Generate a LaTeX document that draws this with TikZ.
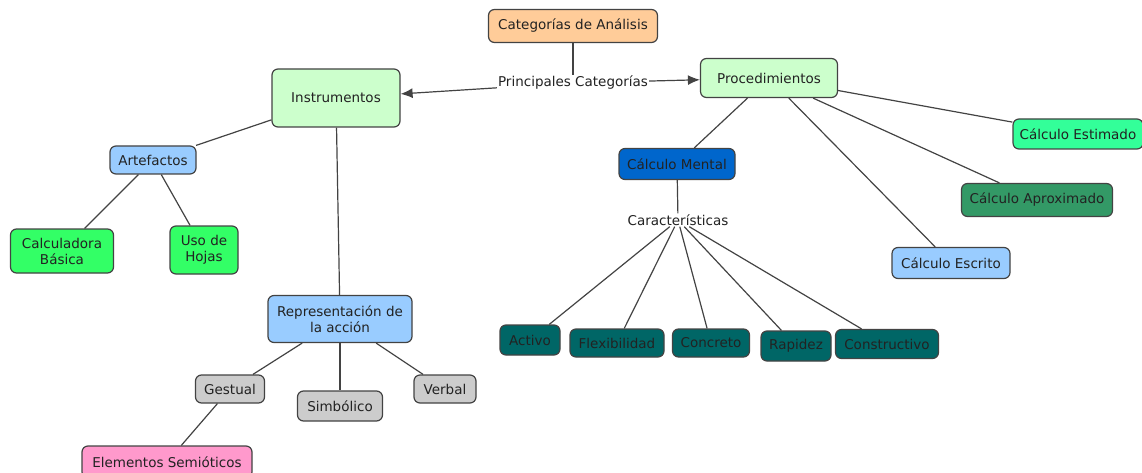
\documentclass[tikz,border=0pt]{standalone}
\usepackage{fontspec}
\setmainfont{DejaVu Sans}
\usepackage{xcolor}
\usetikzlibrary{arrows.meta}
\definecolor{peach}{HTML}{FFCC99}
\definecolor{paleverde}{HTML}{CCFFCC}
\definecolor{celeste}{HTML}{99CCFF}
\definecolor{verdevivo}{HTML}{33FF66}
\definecolor{gris}{HTML}{CCCCCC}
\definecolor{rosa}{HTML}{FF99CC}
\definecolor{azul}{HTML}{0066CC}
\definecolor{petroleo}{HTML}{006666}
\definecolor{menta}{HTML}{33FF99}
\definecolor{marino}{HTML}{339966}
\definecolor{tinta}{HTML}{222222}

\tikzset{
  caja/.style={draw=tinta!85, line width=1.2pt, rounded corners=6pt, text=tinta,
    font=\fontsize{13.5}{16}\selectfont, align=center, inner sep=3pt},
  etiqueta/.style={fill=white, text=tinta, font=\fontsize{13.5}{16}\selectfont, inner sep=1pt},
  enlace/.style={draw=tinta!85, line width=1.2pt}
}

\begin{document}
\begin{tikzpicture}[x=1pt,y=-1pt]
\useasboundingbox (0,0) rectangle (1142,473);

\node [caja,fill=peach,minimum width=169,minimum height=33] (cat) at (573,26) {Categorías de Análisis};
\node [etiqueta] (princ) at (573,83) {Principales Categorías};
\node [caja,fill=paleverde,minimum width=128,minimum height=58] (instr) at (336,98) {Instrumentos};
\node [caja,fill=paleverde,minimum width=137,minimum height=39] (proc) at (769,78) {Procedimientos};

\node [caja,fill=celeste,minimum width=86,minimum height=28] (artef) at (153,160) {Artefactos};
\node [caja,fill=verdevivo,minimum width=103,minimum height=44] (calc) at (62,251) {Calculadora\\Básica};
\node [caja,fill=verdevivo,minimum width=68,minimum height=48] (hojas) at (204,250) {Uso de\\Hojas};

\node [caja,fill=celeste,minimum width=144,minimum height=47] (repr) at (340,319) {Representación de\\la acción};
\node [caja,fill=gris,minimum width=69,minimum height=28] (gest) at (230,389) {Gestual};
\node [caja,fill=gris,minimum width=85,minimum height=30] (simb) at (340,406) {Simbólico};
\node [caja,fill=gris,minimum width=62,minimum height=28] (verb) at (445,389) {Verbal};
\node [caja,fill=rosa,minimum width=170,minimum height=32] (semio) at (167,462) {Elementos Semióticos};

\node [caja,fill=azul,minimum width=116,minimum height=31] (mental) at (677,164) {Cálculo Mental};
\node [etiqueta] (carac) at (678,220) {Características};
\node [caja,fill=petroleo,minimum width=60,minimum height=30] (activo) at (530,340) {Activo};
\node [caja,fill=petroleo,minimum width=94,minimum height=28] (flex) at (617,343) {Flexibilidad};
\node [caja,fill=petroleo,minimum width=77,minimum height=28] (concr) at (711,343) {Concreto};
\node [caja,fill=petroleo,minimum width=70,minimum height=30] (rap) at (796,346) {Rapidez};
\node [caja,fill=petroleo,minimum width=103,minimum height=29] (constr) at (887,344) {Constructivo};

\node [caja,fill=menta,minimum width=130,minimum height=30] (estim) at (1078,134) {Cálculo Estimado};
\node [caja,fill=marino,minimum width=151,minimum height=33] (aprox) at (1037,200) {Cálculo Aproximado};
\node [caja,fill=celeste,minimum width=118,minimum height=31] (escr) at (951,263) {Cálculo Escrito};

\draw [enlace] (cat) -- (princ);
\draw [enlace,-{Latex[length=12pt,width=10pt]}] (princ) -- (instr);
\draw [enlace,-{Latex[length=12pt,width=10pt]}] (princ) -- (proc);

\draw [enlace] (instr) -- (artef);
\draw [enlace] (artef) -- (calc);
\draw [enlace] (artef) -- (hojas);
\draw [enlace] (instr) -- (repr);
\foreach \n in {gest,simb,verb}
\draw [enlace] (repr) -- (\n);
\draw [enlace] (gest) -- (semio);

\foreach \n in {mental,escr,aprox,estim}
\draw [enlace] (proc) -- (\n);
\draw [enlace] (mental) -- (carac);
\foreach \n in {activo,flex,concr,rap,constr}
\draw [enlace] (carac) -- (\n);
\end{tikzpicture}
\end{document}
